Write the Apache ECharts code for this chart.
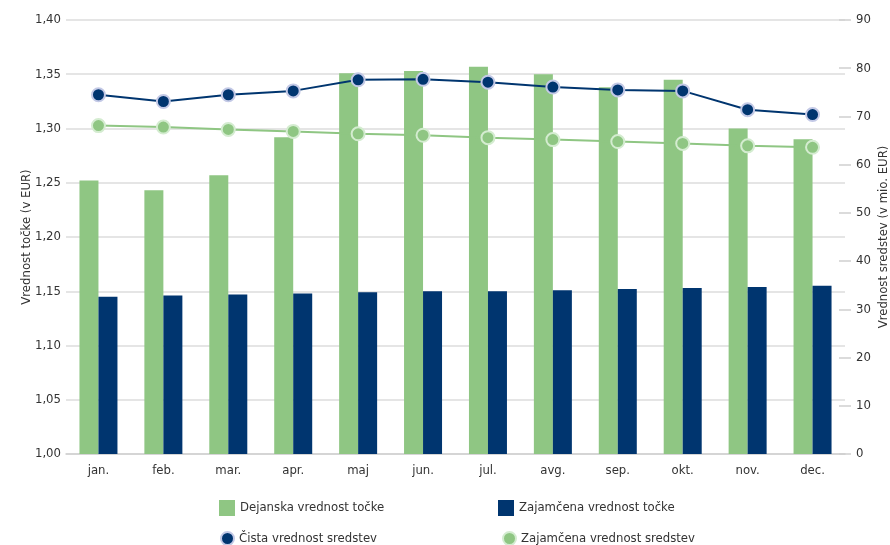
<!DOCTYPE html>
<html><head><meta charset="utf-8">
<script src="https://cdn.jsdelivr.net/npm/echarts@6/dist/echarts.min.js"></script>
<style>html,body{margin:0;padding:0;background:#fff}#c{width:890px;height:545px}</style>
</head><body><div id="c"></div>
<script>
const categories = ['jan.','feb.','mar.','apr.','maj','jun.','jul.','avg.','sep.','okt.','nov.','dec.'];
const dejanska = [1.252,1.243,1.257,1.292,1.351,1.353,1.357,1.350,1.338,1.345,1.300,1.290];
const zajamcenaTocka = [1.145,1.146,1.147,1.148,1.149,1.150,1.150,1.151,1.152,1.153,1.154,1.155];
const cista = [74.5,73.1,74.5,75.3,77.6,77.7,77.1,76.1,75.5,75.3,71.4,70.4];
const zajamcenaSredstva = [68.1,67.8,67.3,66.9,66.4,66.1,65.6,65.2,64.8,64.4,63.9,63.6];
const leftTicks = {min:1.00,max:1.40,interval:0.05};
const rightTicks = {min:0,max:90,interval:10};

const FONT = "'DejaVu Sans Condensed','Liberation Sans Narrow',sans-serif";
const FS = 13;
const TXT = '#333';
const GREEN = '#8fc683', NAVY = '#00356f';
const chart = echarts.init(document.getElementById('c'));
const fmt = v => v.toFixed(2).replace('.', ',');
function legend(name, left, top, icon, w, h, style){
  return {data:[{name, icon, itemStyle:style}], left, top, padding:0, itemWidth:w, itemHeight:h, itemGap:5,
    textStyle:{fontFamily:FONT,fontSize:FS,color:TXT}, selectedMode:false};
}
chart.setOption({
  animation:false,
  grid:{left:66,right:45,top:20,bottom:91,containLabel:false,outerBoundsMode:'none'},
  legend:[
    legend('Dejanska vrednost točke',219,500,'rect',16,16,{color:GREEN}),
    legend('Zajamčena vrednost točke',498,500,'rect',16,16,{color:NAVY}),
    legend('Čista vrednost sredstev',220,531,'circle',13,13,{color:NAVY,borderColor:'#c3c9e6',borderWidth:2}),
    legend('Zajamčena vrednost sredstev',502,531,'circle',13,13,{color:GREEN,borderColor:'#d4ecd0',borderWidth:2})
  ],
  xAxis:[{
    type:'category', data:categories,
    axisLine:{lineStyle:{color:'#d0d0d0',width:1.5}},
    axisTick:{length:6,lineStyle:{color:'#d0d0d0',width:1.5}},
    axisLabel:{fontFamily:FONT,fontSize:FS,color:TXT,margin:10}
  },{
    type:'category', data:categories, position:'bottom',
    axisLine:{show:false}, axisLabel:{show:false},
    axisTick:{inside:true,length:6,lineStyle:{color:'#d0d0d0',width:1.5}}
  }],
  yAxis:[{
    type:'value', min:leftTicks.min, max:leftTicks.max, interval:leftTicks.interval,
    name:'Vrednost točke (v EUR)', nameLocation:'middle', nameGap:33, nameMoveOverlap:false,
    nameTextStyle:{fontFamily:FONT,fontSize:FS,color:TXT},
    axisLine:{show:false}, axisTick:{show:false},
    axisLabel:{fontFamily:FONT,fontSize:FS,color:TXT,formatter:fmt,margin:5},
    splitLine:{lineStyle:{color:'#dcdcdc',width:1.5}}
  },{
    type:'value', position:'right', min:rightTicks.min, max:rightTicks.max, interval:rightTicks.interval,
    name:'Vrednost sredstev (v mio. EUR)', nameLocation:'middle', nameGap:32, nameRotate:90, nameMoveOverlap:false,
    nameTextStyle:{fontFamily:FONT,fontSize:FS,color:TXT},
    axisLine:{show:false}, axisTick:{show:true,length:6,lineStyle:{color:'#d0d0d0',width:1.5}},
    axisLabel:{fontFamily:FONT,fontSize:FS,color:TXT,margin:11},
    splitLine:{show:false}
  },{
    type:'value', position:'right', min:rightTicks.min, max:rightTicks.max, interval:rightTicks.interval,
    axisLine:{show:false}, axisLabel:{show:false}, splitLine:{show:false},
    axisTick:{show:true,inside:true,length:6,lineStyle:{color:'#d0d0d0',width:1.5}}
  }],
  series:[
    {name:'Dejanska vrednost točke',type:'bar',data:dejanska,barWidth:19,barGap:'0%',itemStyle:{color:GREEN}},
    {name:'Zajamčena vrednost točke',type:'bar',data:zajamcenaTocka,barWidth:19,barGap:'0%',itemStyle:{color:NAVY}},
    {name:'Čista vrednost sredstev',type:'line',yAxisIndex:1,data:cista,symbol:'circle',symbolSize:13,
      lineStyle:{color:NAVY,width:2},itemStyle:{color:NAVY,borderColor:'#c3c9e6',borderWidth:2},z:5},
    {name:'Zajamčena vrednost sredstev',type:'line',yAxisIndex:1,data:zajamcenaSredstva,symbol:'circle',symbolSize:13,
      lineStyle:{color:GREEN,width:2},itemStyle:{color:GREEN,borderColor:'#d4ecd0',borderWidth:2},z:4}
  ]
});
</script></body></html>
